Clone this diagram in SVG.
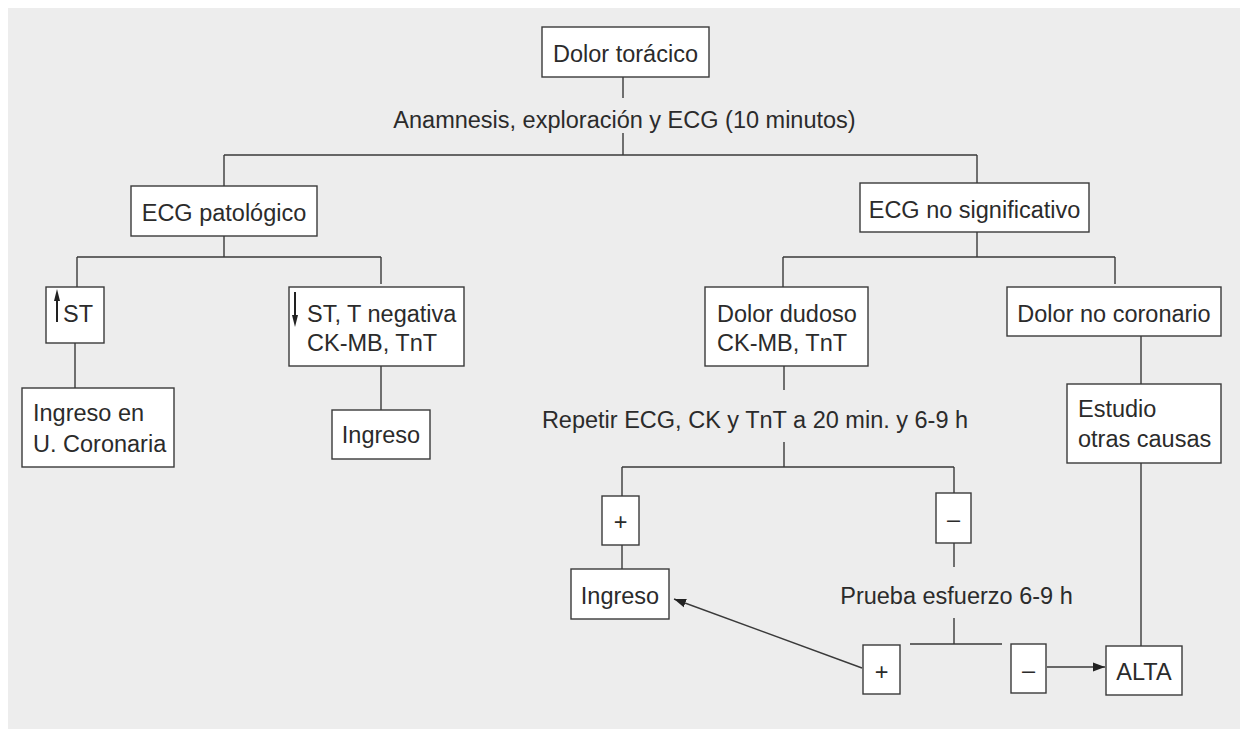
<svg xmlns="http://www.w3.org/2000/svg" width="1240" height="729" viewBox="0 0 1240 729">
<style>
.bx{fill:#fff;stroke:#3a3a3a;stroke-width:1.4}
.ln{fill:none;stroke:#3a3a3a;stroke-width:1.4}
.ar{fill:none;stroke:#222;stroke-width:2}
.t{font-family:"Liberation Sans",Arial,sans-serif;font-size:23.5px;fill:#2b2b2b}
.c{text-anchor:middle}
</style>
<defs>
<marker id="ah" viewBox="0 0 12 10" refX="12" refY="5" markerWidth="12" markerHeight="10" markerUnits="userSpaceOnUse" orient="auto">
<path d="M0,0.5 L12,5 L0,9.5 z" fill="#222"/>
</marker>
</defs>
<rect x="8" y="8" width="1232" height="721" fill="#EDEDED"/>
<g id="connectors">
<path class="ln" d="M623,77 V98 M623,133 V155 M224,155 H977 M224,155 V186 M977,155 V183"/>
<path class="ln" d="M224,236 V257 M77,257 H381 M77,257 V287 M381,257 V284"/>
<path class="ln" d="M75,343 V388 M381,366 V410"/>
<path class="ln" d="M977,232 V257 M783,257 H1115 M783,257 V287 M1115,257 V284"/>
<path class="ln" d="M784,366 V390 M784,442 V467 M622,467 H954 M622,467 V496 M954,467 V493"/>
<path class="ln" d="M622,545 V569 M954,543 V567 M954,618 V644 M910,644 H1002"/>
<path class="ln" d="M1141,336 V384 M1141,463 V646"/>
<path class="ln" d="M862,668 L674,599" marker-end="url(#ah)"/>
<path class="ln" d="M1047,667 H1105" marker-end="url(#ah)"/>
</g>
<g id="n-dolor-toracico"><rect class="bx" x="542" y="27" width="167" height="50"/><text class="t c" x="625.5" y="62">Dolor torácico</text></g>
<g id="n-anamnesis"><text class="t c" x="624.5" y="128">Anamnesis, exploración y ECG (10 minutos)</text></g>
<g id="n-ecg-patologico"><rect class="bx" x="131" y="186" width="186" height="50"/><text class="t c" x="224" y="221">ECG patológico</text></g>
<g id="n-ecg-no-sig"><rect class="bx" x="860" y="183" width="229" height="49"/><text class="t c" x="974.5" y="218">ECG no significativo</text></g>
<g id="n-st-up"><rect class="bx" x="46" y="287" width="58" height="56"/>
<path class="ar" d="M57,322 V299"/><path d="M54,301 L57,289 L60,301 z" fill="#222"/>
<text class="t" x="63" y="322">ST</text></g>
<g id="n-ingreso-uc"><rect class="bx" x="22" y="388" width="152" height="79"/><text class="t" x="33" y="421">Ingreso en</text><text class="t" x="33" y="452">U. Coronaria</text></g>
<g id="n-st-down"><rect class="bx" x="289" y="287" width="175" height="79"/>
<path class="ar" d="M295,292 V317"/><path d="M292,315 L295,327 L298,315 z" fill="#222"/>
<text class="t" x="307" y="322">ST, T negativa</text><text class="t" x="307" y="351">CK-MB, TnT</text></g>
<g id="n-ingreso-1"><rect class="bx" x="332" y="410" width="98" height="49"/><text class="t c" x="381" y="443">Ingreso</text></g>
<g id="n-dolor-dudoso"><rect class="bx" x="705" y="287" width="163" height="79"/><text class="t" x="717" y="322">Dolor dudoso</text><text class="t" x="717" y="351">CK-MB, TnT</text></g>
<g id="n-dolor-no-coronario"><rect class="bx" x="1007" y="287" width="214" height="49"/><text class="t c" x="1114" y="322">Dolor no coronario</text></g>
<g id="n-estudio"><rect class="bx" x="1067" y="384" width="154" height="79"/><text class="t" x="1078" y="417">Estudio</text><text class="t" x="1078" y="447">otras causas</text></g>
<g id="n-repetir"><text class="t c" x="755" y="428">Repetir ECG, CK y TnT a 20 min. y 6-9 h</text></g>
<g id="n-plus-1"><rect class="bx" x="602" y="496" width="37" height="49"/><text class="t c" x="620.5" y="530">+</text></g>
<g id="n-minus-1"><rect class="bx" x="936" y="493" width="35" height="50"/><text class="t c" x="953.5" y="527">–</text></g>
<g id="n-ingreso-2"><rect class="bx" x="571" y="569" width="98" height="50"/><text class="t c" x="620" y="604">Ingreso</text></g>
<g id="n-prueba"><text class="t c" x="956.5" y="604">Prueba esfuerzo 6-9 h</text></g>
<g id="n-plus-2"><rect class="bx" x="863" y="645" width="37" height="49"/><text class="t c" x="881.5" y="680">+</text></g>
<g id="n-minus-2"><rect class="bx" x="1011" y="644" width="35" height="49"/><text class="t c" x="1028.5" y="678">–</text></g>
<g id="n-alta"><rect class="bx" x="1106" y="646" width="76" height="49"/><text class="t c" x="1144" y="680">ALTA</text></g>
</svg>
